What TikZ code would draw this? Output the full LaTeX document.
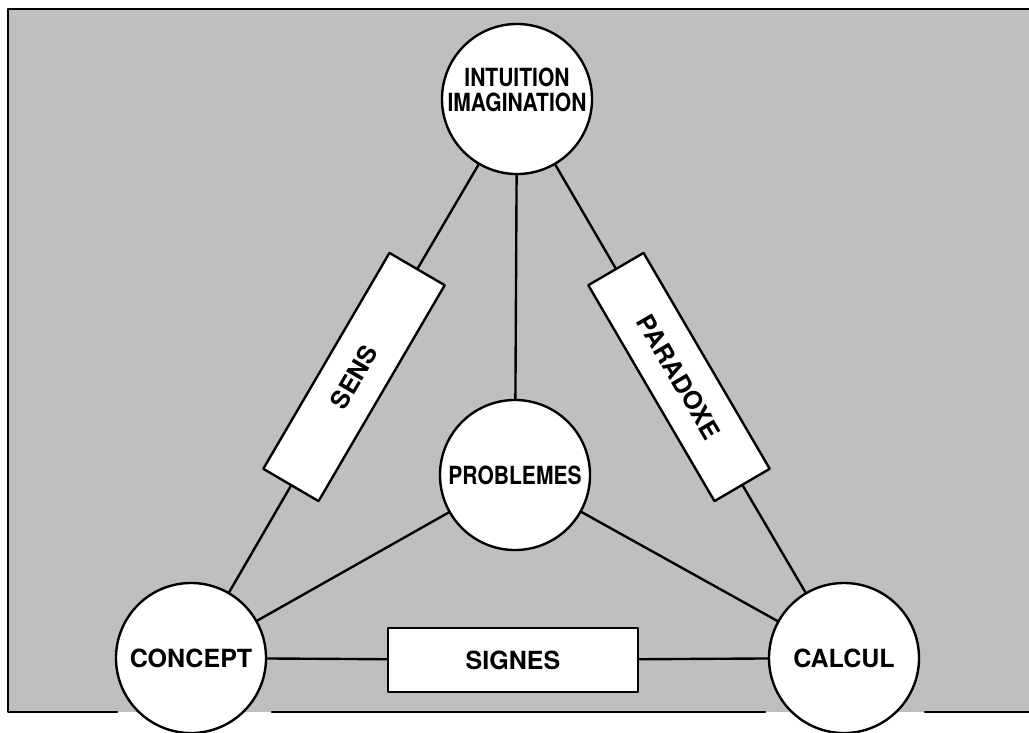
\documentclass[tikz,border=0pt]{standalone}
\usepackage{fontspec}
\setmainfont{TeX Gyre Heros}
\usepackage{tikz}
\usetikzlibrary{shapes,calc}
\usetikzlibrary{positioning}
\tikzstyle{every node}=[font=\fontsize{17.8}{18}\selectfont\bfseries]
\tikzstyle{every path}=[line width=1.7pt,line cap=round,line join=round]
\tikzstyle{pole}=[draw,circle,fill=white,minimum size=3.75cm,inner sep=0pt]
\tikzstyle{lien}=[draw,rectangle,fill=white,minimum width=6.25cm,minimum height=1.6cm,inner sep=0pt]
\newcommand{\serre}[1]{\scalebox{0.84}[1]{#1}}

\begin{document}
\begin{tikzpicture}[x=0.025cm,y=-0.025cm]
\useasboundingbox (0,0) rectangle (1029,732);
% fond pointille
\fill [black!25] (8,9) rectangle (1029,712);
\draw (1029,9) -- (8,9) -- (8,712) -- (117,712);
\draw (272,712) -- (765,712);
\draw (925,712) -- (1029,712);

% les quatre poles
\node [pole] (intuition) at (517,99) {};
\node [align=center] (intuitiontext) at (517,90) {\serre{INTUITION}\\\serre{IMAGINATION}};
\node [pole] (problemes) at (515,475) {\serre{PROBLEMES}};
\node [pole] (concept) at (191,658) {CONCEPT};
\node [pole] (calcul) at (844,658) {CALCUL};

% les trois liens
\node [lien,rotate=59.7] (sens) at (354,377) {SENS};
\node [lien,rotate=-59.7] (paradoxe) at (679,377) {PARADOXE};
\node [lien] (signes) at (513,660) {SIGNES};

\draw (concept) -- (sens) -- (intuition);
\draw (intuition) -- (paradoxe) -- (calcul);
\draw (concept) -- (signes) -- (calcul);
\draw (intuition) -- (problemes);
\draw (concept) -- (problemes);
\draw (calcul) -- (problemes);
\end{tikzpicture}
\end{document}
